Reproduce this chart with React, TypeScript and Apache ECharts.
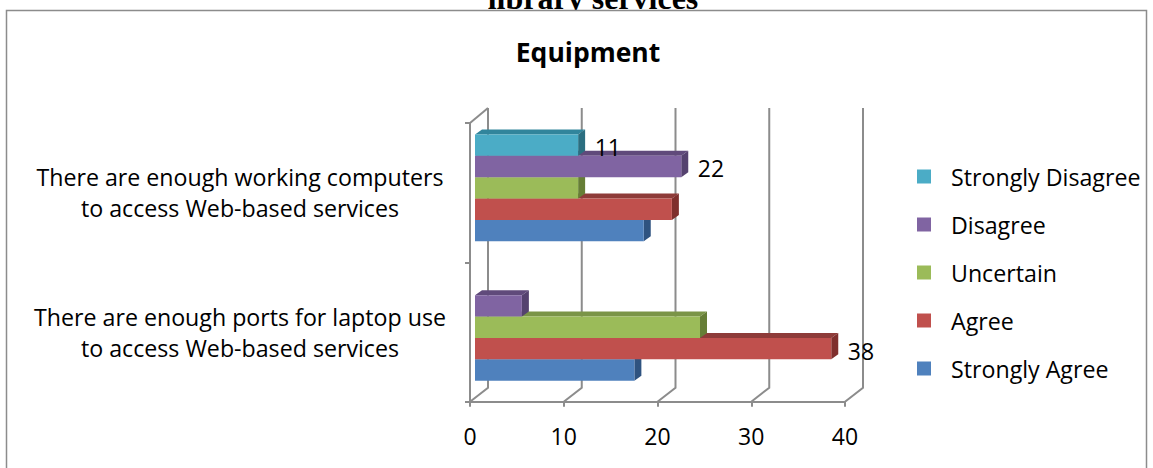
import React, { useEffect, useRef } from "react";
import * as echarts from "echarts";

const categories = [
  "There are enough ports for laptop use\nto access Web-based services",
  "There are enough working computers\nto access Web-based services",
];
const seriesNames = ["Strongly Agree", "Agree", "Uncertain", "Disagree", "Strongly Disagree"];
const stronglyAgree = [17, 18];
const agree = [38, 21];
const uncertain = [24, 11];
const disagree = [5, 22];
const stronglyDisagree = [0, 11];
const labelled = [[], [0], [], [1], [1]];
const xTicks = [0, 10, 20, 30, 40];
const fronts = ["#4F81BD", "#C0504D", "#9BBB59", "#8064A2", "#4BACC6"];
const sides = ["#2F5380", "#7F2F2D", "#667E36", "#55426F", "#2B6E80"];
const tops = ["#3F6897", "#8E3B39", "#7A9447", "#604A7B", "#31859C"];

const FONT = "'Open Sans'";
const GRID = "#8C8C8C";
const WALL_DX = 18;
const WALL_DY = 14;
const BAR_DX = 5;
const BAR_DY = 4.8;
const FACE_DX = 7;
const FACE_DY = 5;

export default function App() {
  const ref = useRef<HTMLDivElement>(null);
  useEffect(() => {
    document.body.style.margin = "0";
    const chart = echarts.init(ref.current!, undefined, { renderer: "svg" });
    const values = [stronglyAgree, agree, uncertain, disagree, stronglyDisagree];

    const barSeries = seriesNames.map((name, s) => ({
      type: "custom",
      name,
      coordinateSystem: "cartesian2d",
      clip: false,
      z: 5,
      itemStyle: { color: fronts[s] },
      encode: { x: 0, y: 1 },
      data: values[s].map((v, c) => [v, c]),
      renderItem: (_p: any, api: any) => {
        const v = api.value(0);
        const c = api.value(1);
        if (!v) return null;
        const band = api.size([0, 1])[1];
        const barH = band * 0.1535;
        const origin = api.coord([0, c]);
        const end = api.coord([v, c]);
        const x0 = origin[0] + BAR_DX;
        const x1 = end[0] + BAR_DX;
        const yc = origin[1] - BAR_DY + (2 - s) * barH;
        const y0 = yc - barH / 2;
        const y1 = yc + barH / 2;
        const children: any[] = [
          {
            type: "polygon",
            shape: { points: [[x0, y0], [x0 + FACE_DX, y0 - FACE_DY], [x1 + FACE_DX, y0 - FACE_DY], [x1, y0]] },
            style: { fill: tops[s] },
          },
          {
            type: "polygon",
            shape: { points: [[x1, y0], [x1 + FACE_DX, y0 - FACE_DY], [x1 + FACE_DX, y1 - FACE_DY], [x1, y1]] },
            style: { fill: sides[s] },
          },
          {
            type: "rect",
            shape: { x: x0, y: y0, width: x1 - x0, height: y1 - y0 },
            style: { fill: fronts[s] },
          },
        ];
        if (labelled[s].includes(c)) {
          children.push({
            type: "text",
            z2: 20,
            style: {
              x: x1 + 16.5,
              y: yc + 2,
              text: String(v),
              fill: "#000",
              font: `23px ${FONT}`,
              align: "left",
              verticalAlign: "middle",
            },
          });
        }
        return { type: "group", children };
      },
    }));

    const wallSeries = {
      type: "custom",
      name: "walls",
      coordinateSystem: "cartesian2d",
      clip: false,
      z: 1,
      silent: true,
      encode: { x: 0, y: 1 },
      data: xTicks.map((t) => [t, 0]),
      renderItem: (p: any, api: any) => {
        const v = api.value(0);
        const cs = p.coordSys;
        const bottom = cs.y + cs.height;
        const x = api.coord([v, 0])[0];
        const children: any[] = [
          {
            type: "polyline",
            shape: {
              points: [[x, bottom], [x + WALL_DX, bottom - WALL_DY], [x + WALL_DX, cs.y - WALL_DY - 1]],
            },
            style: { stroke: GRID, lineWidth: 2, fill: "none" },
          },
        ];
        if (v === 0) {
          children.push({
            type: "line",
            shape: { x1: x, y1: cs.y, x2: x + WALL_DX, y2: cs.y - WALL_DY - 1 },
            style: { stroke: GRID, lineWidth: 2 },
          });
        }
        return { type: "group", children };
      },
    };

    chart.setOption({
      animation: false,
      backgroundColor: "#fff",
      title: {
        text: "Equipment",
        left: 588,
        top: 38,
        textAlign: "center",
        padding: 0,
        textStyle: { fontFamily: FONT, fontSize: 26.5, fontWeight: "bold", color: "#000" },
      },
      grid: { left: 470, top: 123, width: 375, height: 278.7, containLabel: false },
      xAxis: {
        type: "value",
        min: 0,
        max: 40,
        interval: 10,
        splitLine: { show: false },
        axisLine: { show: true, lineStyle: { color: GRID, width: 2 } },
        axisTick: { show: true, length: 5, lineStyle: { color: GRID, width: 2 } },
        axisLabel: { fontFamily: FONT, fontSize: 23, color: "#000", margin: 23 },
      },
      yAxis: {
        type: "category",
        data: categories,
        axisLine: { show: true, lineStyle: { color: GRID, width: 2 } },
        axisTick: { show: true, length: 5, lineStyle: { color: GRID, width: 2 } },
        axisLabel: {
          fontFamily: FONT,
          fontSize: 23.2,
          color: "#000",
          margin: 230,
          align: "center",
          lineHeight: 31,
        },
      },
      legend: {
        orient: "vertical",
        left: 917,
        top: 165,
        padding: 0,
        icon: "rect",
        itemWidth: 14,
        itemHeight: 14,
        itemGap: 25,
        data: [...seriesNames].reverse(),
        textStyle: { fontFamily: FONT, fontSize: 23.2, color: "#000", padding: [0, 0, 0, 15] },
        selectedMode: false,
      },
      graphic: [
        {
          type: "rect",
          z: -1,
          shape: { x: 6.5, y: 10.5, width: 1140, height: 480 },
          style: { fill: "#fff", stroke: "#8C8C8C", lineWidth: 1.5 },
        },
        {
          type: "text",
          z: -2,
          x: 593,
          y: 14,
          style: {
            text: "library services",
            align: "center",
            verticalAlign: "bottom",
            font: "bold 32px 'Liberation Serif'",
            fill: "#000",
          },
        },
      ],
      series: [wallSeries, ...barSeries],
    });
    return () => chart.dispose();
  }, []);
  return <div ref={ref} style={{ width: 1153, height: 468 }} />;
}
